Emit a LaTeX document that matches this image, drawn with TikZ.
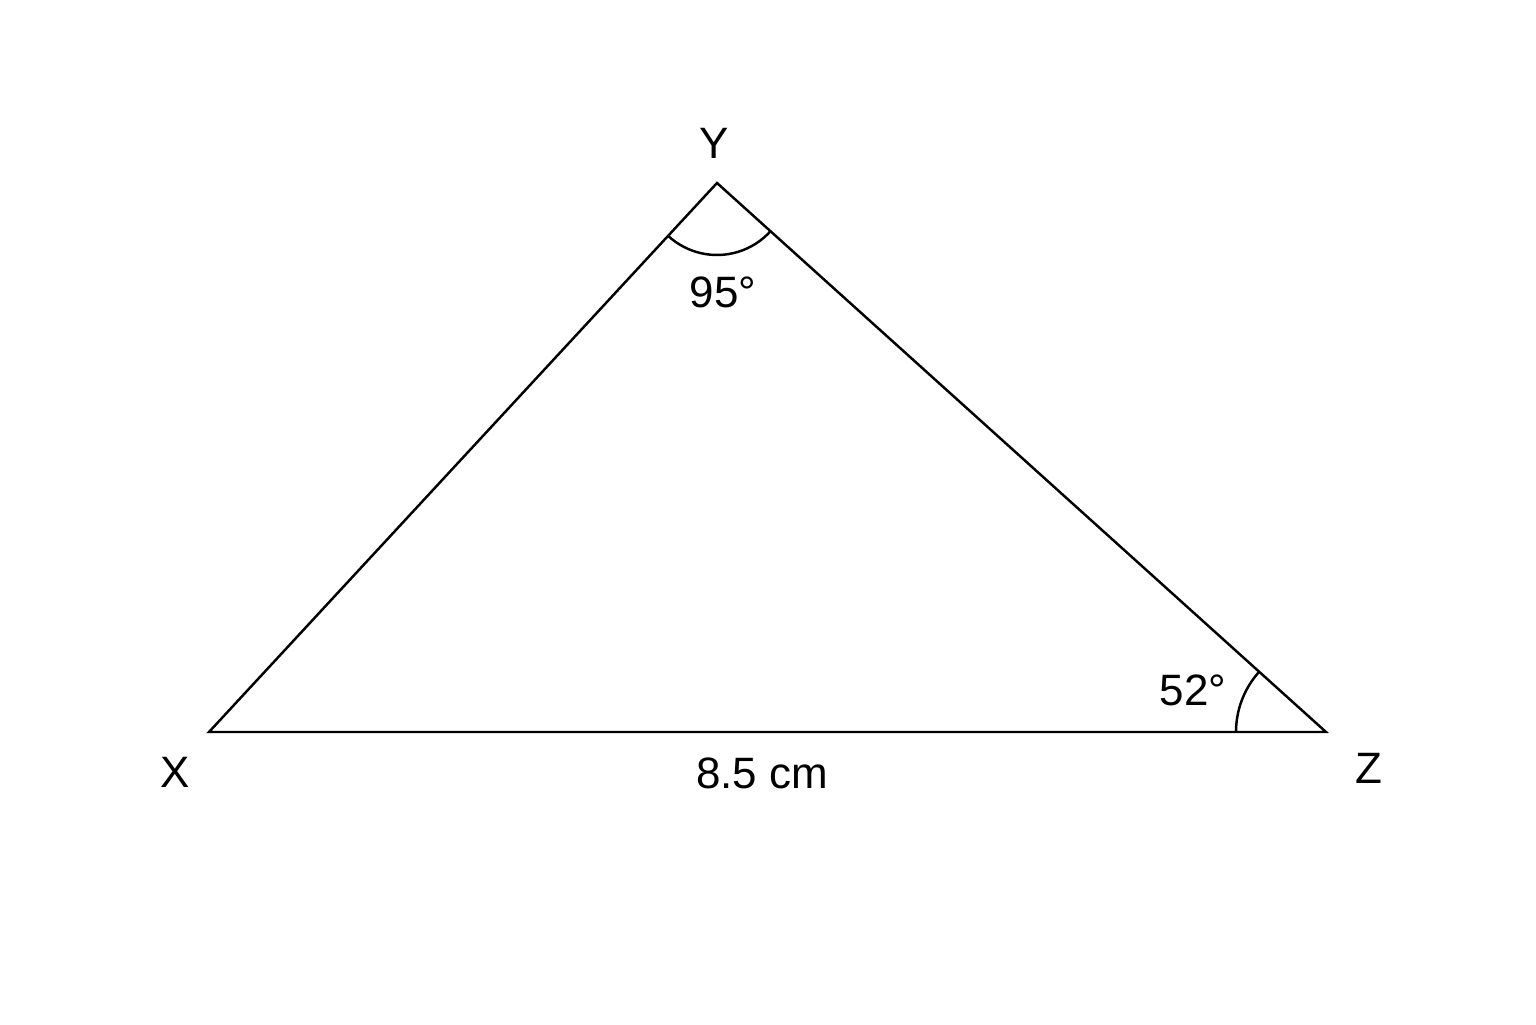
\documentclass[tikz,border=0pt]{standalone}
\usepackage{fontspec}
\setmainfont{Liberation Sans}
\usepackage{tikz}
\usetikzlibrary{calc,angles,quotes}
\definecolor{ink}{HTML}{000000}
\tikzset{
  side/.style={draw=ink, line width=0.7pt, line join=miter},
  arcline/.style={draw=ink, line width=0.7pt},
  lab/.style={text=ink, font=\fontsize{12.5}{15}\selectfont, inner sep=0pt},
}
\begin{document}
\begin{tikzpicture}
  \useasboundingbox[fill=white] (0,0) rectangle (15.36,10.24);
  \coordinate (X) at (2.09,2.92);
  \coordinate (Y) at (7.17,8.41);
  \coordinate (Z) at (13.26,2.92);
  \draw[side] (X)--(Y)--(Z)--cycle;
  \pic[arcline, angle radius=0.72cm] {angle=X--Y--Z};
  \pic[arcline, angle radius=0.90cm] {angle=Y--Z--X};
  \node[lab] (labX) at (1.75,2.52) {X};
  \node[lab] (labY) at (7.14,8.81) {Y};
  \node[lab] (labZ) at (13.69,2.56) {Z};
  \node[lab] (angY) at (7.23,7.32) {95°};
  \node[lab] (angZ) at (11.93,3.34) {52°};
  \node[lab] (base) at (7.62,2.51) {8.5 cm};
\end{tikzpicture}
\end{document}
